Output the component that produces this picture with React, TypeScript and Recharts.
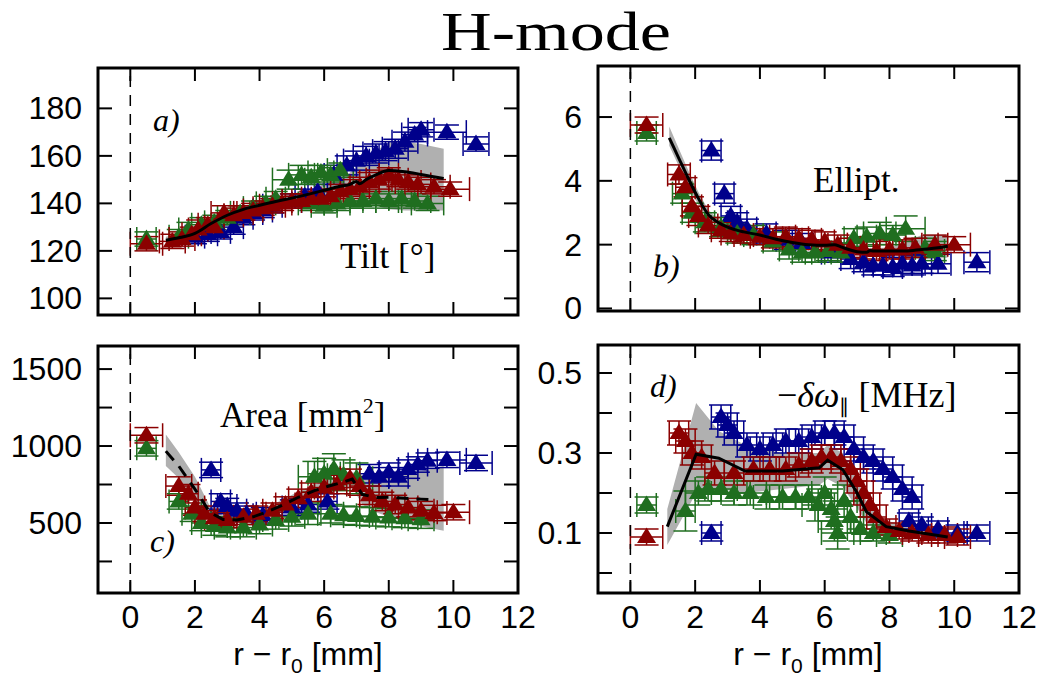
import { Area, ComposedChart, ErrorBar, Line, ReferenceLine, Scatter, XAxis, YAxis } from "recharts"

// [x, y, xerr, yerr]
type Pt = [number, number, number, number]

const BLUE = "#00008b"
const GREEN = "#1f6e1f"
const RED = "#8b0000"
const BAND = "#b0b0b0"

const xTicks = [0, 2, 4, 6, 8, 10, 12]

// a) Tilt
const tiltTicks = [100, 120, 140, 160, 180]
const tiltFitX = [1.1, 1.5, 2.0, 2.5, 3.0, 3.5, 4.0, 4.5, 5.0, 5.5, 6.0, 6.5, 6.8, 7.0, 7.1, 7.3, 7.6, 8.0, 8.5, 9.0, 9.7]
const tiltFit = [124.5, 125.5, 127.4, 131.5, 135, 137.5, 139.2, 140.8, 142.2, 143.8, 145.5, 147.2, 148, 149.2, 148.3, 150, 152, 153.8, 153.3, 152.2, 150.5]
const tiltLo = [123, 124, 126, 130, 133.5, 136, 137.8, 139.3, 140.5, 141.8, 143, 144, 143, 142, 141, 140, 139, 137.5, 137, 137, 137]
const tiltHi = [126, 127, 129, 133, 136.5, 139, 140.6, 142.3, 144, 145.8, 148, 150.5, 153, 155, 156, 158, 162, 166, 166, 165, 163]
const tiltBlue: Pt[] = [
  [2.0, 126, 0.3, 3], [2.4, 127, 0.3, 3], [2.8, 128, 0.3, 3], [3.2, 130, 0.3, 3], [3.5, 134, 0.3, 3], [3.8, 136, 0.3, 3],
  [4.1, 137, 0.3, 3], [4.4, 139, 0.3, 3], [5.0, 141, 0.3, 3], [5.4, 143, 0.3, 3], [5.8, 145, 0.3, 3], [6.3, 152, 0.3, 4],
  [6.7, 156, 0.3, 4], [7.0, 158, 0.4, 4], [7.3, 160, 0.4, 4], [7.6, 161, 0.4, 4], [7.9, 162, 0.4, 4], [8.2, 163, 0.4, 4],
  [8.5, 166, 0.4, 4], [8.8, 169, 0.4, 3], [9.0, 171, 0.4, 3], [9.8, 170, 0.6, 3], [10.7, 165, 0.4, 3],
]
const tiltGreen: Pt[] = [
  [0.5, 125, 0.3, 3], [1.5, 126, 0.3, 3], [1.8, 129, 0.3, 3], [2.2, 131, 0.3, 3], [2.6, 132, 0.3, 3], [3.0, 134, 0.3, 3],
  [3.4, 136, 0.3, 3], [3.8, 138, 0.3, 3], [4.2, 140, 0.3, 3], [4.5, 142, 0.3, 3], [4.9, 150, 0.5, 4], [5.3, 152, 0.4, 4],
  [5.6, 151, 0.4, 3], [5.9, 153, 0.4, 3], [6.2, 152, 0.4, 3], [6.5, 154, 0.4, 3], [5.6, 140, 0.4, 3], [6.0, 139, 0.4, 3],
  [6.4, 140, 0.4, 3], [6.8, 141, 0.4, 3], [7.2, 141, 0.4, 3], [7.6, 142, 0.4, 3], [8.0, 141, 0.4, 3], [8.4, 142, 0.4, 3],
  [8.8, 141, 0.5, 3], [9.2, 140, 0.5, 3],
]
const tiltRed: Pt[] = [
  [0.5, 123, 0.5, 3], [1.3, 124, 0.4, 3], [1.6, 125, 0.4, 3], [1.9, 127, 0.3, 3], [2.1, 129, 0.3, 4], [2.4, 131, 0.3, 3],
  [2.6, 130, 0.3, 3], [2.9, 136, 0.4, 3], [3.2, 135, 0.3, 3], [3.5, 136, 0.3, 3], [3.8, 137, 0.3, 3], [4.1, 138, 0.3, 3],
  [4.4, 139, 0.4, 3], [4.7, 140, 0.3, 3], [5.0, 141, 0.3, 3], [5.3, 141, 0.3, 3], [5.6, 142, 0.3, 3], [5.9, 142, 0.3, 3],
  [6.2, 143, 0.4, 3], [6.5, 145, 0.3, 3], [6.8, 146, 0.3, 4], [7.1, 147, 0.3, 4], [7.4, 149, 0.3, 4], [7.7, 150, 0.4, 4],
  [8.0, 152, 0.3, 3], [8.3, 150, 0.3, 3], [8.6, 149, 0.4, 3], [8.9, 148, 0.4, 3], [9.4, 147, 0.5, 3], [9.9, 146, 0.6, 3],
]

// b) Ellipticity
const ellTicks = [0, 2, 4, 6]
const ellFitX = [1.2, 1.5, 1.8, 2.1, 2.4, 2.7, 3.0, 3.5, 4.0, 4.5, 5.0, 5.5, 6.0, 6.3, 6.5, 7.0, 7.3, 7.4, 7.5, 8.0, 8.5, 9.0, 9.5, 9.8]
const ellFit = [5.35, 4.7, 4.05, 3.45, 2.95, 2.7, 2.55, 2.4, 2.3, 2.17, 2.07, 2.0, 1.98, 2.0, 1.93, 1.78, 1.76, 1.82, 1.8, 1.8, 1.8, 1.85, 1.9, 1.95]
const ellLo = [5.1, 4.45, 3.8, 3.25, 2.8, 2.6, 2.47, 2.33, 2.23, 2.1, 2.0, 1.93, 1.91, 1.93, 1.86, 1.71, 1.69, 1.74, 1.72, 1.7, 1.6, 1.55, 1.55, 1.6]
const ellHi = [5.7, 5.0, 4.3, 3.65, 3.1, 2.8, 2.63, 2.47, 2.37, 2.24, 2.14, 2.07, 2.05, 2.07, 2.0, 1.85, 1.83, 1.9, 1.88, 1.92, 2.1, 2.3, 2.3, 2.3]
const ellBlue: Pt[] = [
  [2.5, 4.95, 0.3, 0.3], [2.9, 3.6, 0.3, 0.3], [3.1, 2.9, 0.3, 0.3], [3.3, 2.7, 0.3, 0.3], [3.6, 2.5, 0.3, 0.3],
  [4.2, 2.35, 0.3, 0.3], [4.8, 2.15, 0.3, 0.3], [5.3, 2.05, 0.3, 0.3], [6.2, 1.75, 0.3, 0.3], [6.8, 1.55, 0.3, 0.3],
  [7.2, 1.45, 0.3, 0.3], [7.5, 1.35, 0.3, 0.3], [7.8, 1.35, 0.3, 0.3], [8.1, 1.3, 0.3, 0.3], [8.4, 1.4, 0.3, 0.3],
  [8.7, 1.35, 0.3, 0.3], [9.0, 1.4, 0.3, 0.3], [9.5, 1.4, 0.4, 0.3], [10.7, 1.45, 0.4, 0.3],
]
const ellGreen: Pt[] = [
  [0.5, 5.5, 0.3, 0.25], [1.6, 3.6, 0.3, 0.3], [1.9, 3.0, 0.3, 0.3], [2.3, 2.7, 0.3, 0.3], [2.8, 2.55, 0.3, 0.3],
  [3.3, 2.35, 0.3, 0.3], [3.8, 2.3, 0.3, 0.3], [4.4, 2.1, 0.3, 0.3], [4.9, 1.85, 0.3, 0.3], [5.3, 1.75, 0.3, 0.3],
  [5.7, 1.75, 0.3, 0.3], [6.1, 1.8, 0.3, 0.3], [6.5, 1.75, 0.3, 0.3], [6.9, 2.2, 0.3, 0.3], [7.3, 2.25, 0.3, 0.3],
  [7.7, 2.35, 0.5, 0.35], [8.1, 2.3, 0.4, 0.3], [8.5, 2.5, 0.6, 0.4], [9.1, 1.9, 0.3, 0.3], [9.4, 1.8, 0.3, 0.3],
]
const ellRed: Pt[] = [
  [0.5, 5.75, 0.5, 0.25], [1.5, 4.2, 0.35, 0.3], [1.7, 3.8, 0.3, 0.3], [1.9, 3.2, 0.3, 0.3], [2.1, 2.9, 0.3, 0.3],
  [2.4, 2.6, 0.3, 0.25], [2.8, 2.45, 0.3, 0.25], [3.1, 2.35, 0.3, 0.25], [3.5, 2.3, 0.3, 0.25], [4.0, 2.25, 0.3, 0.25],
  [4.4, 2.2, 0.3, 0.3], [4.8, 2.25, 0.3, 0.3], [5.2, 2.2, 0.3, 0.3], [5.6, 2.15, 0.3, 0.3], [6.0, 2.1, 0.3, 0.3],
  [6.4, 2.0, 0.3, 0.3], [6.8, 1.9, 0.3, 0.3], [7.2, 1.85, 0.3, 0.3], [7.6, 1.8, 0.3, 0.3], [8.0, 1.85, 0.3, 0.3],
  [8.4, 1.85, 0.3, 0.3], [8.8, 1.9, 0.3, 0.3], [9.4, 2.0, 0.4, 0.3], [10.0, 2.0, 0.5, 0.25],
]

// c) Area
const areaTicks = [250, 500, 750, 1000, 1250, 1500]
const areaLabels = [500, 1000, 1500]
const areaFitX = [1.1, 1.5, 2.0, 2.46, 2.87, 3.3, 3.8, 4.2, 4.7, 5.2, 5.7, 6.15, 6.5, 6.87, 7.18, 7.6, 8.0, 8.5, 9.0, 9.3, 9.7]
const areaFit = [967, 870, 720, 569, 523, 520, 540, 569, 615, 667, 710, 740, 760, 785, 686, 665, 667, 660, 655, 652, null]
const areaLo = [870, 790, 650, 535, 500, 500, 515, 540, 580, 630, 670, 700, 715, 730, 620, 570, 540, 510, 480, 465, 450]
const areaHi = [1075, 960, 800, 610, 550, 545, 565, 600, 650, 705, 750, 785, 810, 830, 810, 815, 830, 835, 840, 850, 870]
const areaBlue: Pt[] = [
  [2.5, 845, 0.3, 50], [2.8, 640, 0.3, 50], [3.0, 610, 0.3, 50], [3.3, 580, 0.3, 50], [3.6, 560, 0.3, 50],
  [4.1, 550, 0.3, 50], [5.0, 600, 0.3, 50], [5.5, 620, 0.3, 50], [6.1, 640, 0.3, 50], [7.4, 820, 0.3, 60],
  [7.7, 800, 0.3, 60], [8.0, 830, 0.3, 60], [8.3, 800, 0.3, 60], [8.6, 850, 0.3, 60], [8.9, 880, 0.3, 50],
  [9.2, 905, 0.3, 50], [9.8, 910, 0.6, 50], [10.7, 890, 0.5, 50],
]
const areaGreen: Pt[] = [
  [0.5, 985, 0.3, 50], [1.5, 640, 0.3, 50], [1.9, 560, 0.3, 50], [2.2, 500, 0.3, 50], [2.6, 480, 0.4, 60],
  [3.0, 470, 0.4, 60], [3.5, 470, 0.4, 60], [4.0, 490, 0.4, 60], [4.5, 520, 0.4, 60], [5.0, 540, 0.4, 60],
  [5.5, 560, 0.4, 70], [5.7, 800, 0.5, 100], [6.0, 820, 0.5, 100], [6.3, 850, 0.5, 100], [6.6, 810, 0.5, 100],
  [7.0, 790, 0.5, 100], [6.2, 560, 0.4, 60], [6.6, 550, 0.4, 60], [7.0, 545, 0.4, 60], [7.5, 540, 0.4, 60],
  [8.0, 535, 0.4, 60], [8.5, 530, 0.4, 60], [9.0, 525, 0.4, 60],
]
const areaRed: Pt[] = [
  [0.5, 1070, 0.5, 50], [1.5, 740, 0.4, 60], [1.8, 690, 0.3, 60], [2.0, 600, 0.3, 50], [2.3, 560, 0.3, 50],
  [2.6, 530, 0.3, 50], [3.0, 520, 0.3, 50], [3.5, 540, 0.3, 50], [3.9, 560, 0.3, 50], [4.4, 580, 0.3, 50],
  [4.8, 620, 0.3, 50], [5.2, 660, 0.3, 60], [5.6, 700, 0.3, 60], [6.0, 730, 0.3, 60], [6.4, 750, 0.3, 60],
  [6.8, 790, 0.3, 60], [7.1, 740, 0.3, 60], [7.4, 680, 0.3, 60], [7.8, 640, 0.3, 60], [8.2, 620, 0.3, 60],
  [8.6, 600, 0.3, 60], [9.0, 580, 0.4, 60], [9.4, 565, 0.4, 50], [10.0, 570, 0.5, 50],
]

// d) frequency shift
const freqTicks = [0, 0.1, 0.2, 0.3, 0.4, 0.5]
const freqLabels = [0.1, 0.3, 0.5]
const freqFitX = [1.14, 2.03, 2.73, 3.54, 4.7, 5.83, 6.09, 6.56, 6.98, 7.29, 7.9, 8.6, 9.8]
const freqFit = [0.116, 0.297, 0.287, 0.255, 0.255, 0.263, 0.282, 0.258, 0.203, 0.153, 0.116, 0.105, 0.09]
const freqLo = [0.07, 0.2, 0.21, 0.2, 0.21, 0.22, 0.235, 0.215, 0.165, 0.125, 0.1, 0.09, 0.08]
const freqHi = [0.16, 0.425, 0.355, 0.32, 0.3, 0.3, 0.32, 0.3, 0.24, 0.18, 0.13, 0.12, 0.1]
const freqBlue: Pt[] = [
  [2.5, 0.1, 0.3, 0.02], [2.8, 0.39, 0.3, 0.03], [3.0, 0.37, 0.3, 0.03], [3.2, 0.35, 0.3, 0.03], [3.6, 0.32, 0.3, 0.03],
  [4.0, 0.31, 0.3, 0.03], [4.4, 0.32, 0.3, 0.03], [4.8, 0.33, 0.3, 0.03], [5.2, 0.33, 0.3, 0.03], [5.6, 0.34, 0.3, 0.03],
  [6.0, 0.35, 0.3, 0.03], [6.3, 0.35, 0.3, 0.03], [6.6, 0.34, 0.3, 0.03], [6.9, 0.31, 0.3, 0.03], [7.2, 0.29, 0.3, 0.03],
  [7.5, 0.28, 0.3, 0.03], [7.8, 0.26, 0.3, 0.03], [8.1, 0.24, 0.3, 0.03], [8.4, 0.21, 0.3, 0.03], [8.7, 0.19, 0.3, 0.03],
  [8.6, 0.13, 0.3, 0.02], [9.0, 0.12, 0.3, 0.02], [9.5, 0.11, 0.3, 0.02], [10.1, 0.1, 0.3, 0.02], [10.7, 0.1, 0.4, 0.02],
]
const freqGreen: Pt[] = [
  [0.5, 0.17, 0.3, 0.02], [1.7, 0.155, 0.3, 0.05], [2.1, 0.2, 0.4, 0.03], [2.4, 0.21, 0.4, 0.03], [2.8, 0.21, 0.5, 0.03],
  [3.2, 0.2, 0.4, 0.03], [3.7, 0.2, 0.5, 0.03], [4.2, 0.19, 0.4, 0.03], [4.7, 0.19, 0.4, 0.03], [5.1, 0.19, 0.5, 0.03],
  [5.5, 0.19, 0.4, 0.03], [5.8, 0.17, 0.5, 0.04], [6.0, 0.2, 0.4, 0.04], [6.2, 0.16, 0.5, 0.05], [6.3, 0.13, 0.5, 0.05],
  [6.4, 0.1, 0.5, 0.04], [6.6, 0.18, 0.4, 0.04], [6.8, 0.14, 0.4, 0.04], [7.1, 0.11, 0.4, 0.03], [7.5, 0.1, 0.4, 0.02],
  [8.0, 0.095, 0.4, 0.02],
]
const freqRed: Pt[] = [
  [0.5, 0.09, 0.5, 0.02], [1.5, 0.35, 0.3, 0.03], [1.7, 0.33, 0.3, 0.03], [1.9, 0.3, 0.3, 0.03], [2.2, 0.29, 0.3, 0.03],
  [2.6, 0.25, 0.3, 0.03], [3.2, 0.25, 0.3, 0.03], [3.8, 0.26, 0.3, 0.03], [4.3, 0.26, 0.3, 0.03], [4.8, 0.26, 0.3, 0.03],
  [5.2, 0.27, 0.3, 0.03], [5.6, 0.28, 0.3, 0.03], [5.9, 0.29, 0.3, 0.03], [6.2, 0.29, 0.3, 0.03], [6.5, 0.28, 0.3, 0.03],
  [6.8, 0.26, 0.3, 0.03], [7.0, 0.23, 0.3, 0.03], [7.2, 0.2, 0.3, 0.03], [7.4, 0.17, 0.3, 0.03], [7.6, 0.14, 0.3, 0.03],
  [7.9, 0.115, 0.3, 0.02], [8.3, 0.105, 0.3, 0.02], [8.7, 0.1, 0.3, 0.02], [9.2, 0.095, 0.3, 0.02], [9.7, 0.095, 0.4, 0.02],
  [10.1, 0.09, 0.4, 0.02],
]

const SANS = "'Liberation Sans', Arial, sans-serif"
const SERIF = "'Liberation Serif', 'Times New Roman', serif"

function toFit(xs: number[], ys: (number | null)[], lo: number[], hi: number[]) {
  return xs.map((x, i) => ({ x, y: ys[i], band: [lo[i], hi[i]] }))
}

function toPts(pts: Pt[]) {
  return pts.map(([x, y, ex, ey]) => ({ x, y, ex, ey }))
}

const triangle = (color: string) => (p: any) => {
  const { cx, cy } = p
  return <polygon points={`${cx - 9.5},${cy + 6} ${cx + 9.5},${cy + 6} ${cx},${cy - 9.5}`} fill={color} />
}

interface PanelProps {
  L: number
  T: number
  W: number
  H: number
  yDomain: [number, number]
  yTicks: number[]
  yLabels: number[]
  xLabels: boolean
  fit: any[]
  blue: Pt[]
  green: Pt[]
  red: Pt[]
  dashed?: boolean
  curve: "monotone" | "linear"
}

function Panel({ L, T, W, H, yDomain, yTicks, yLabels, xLabels, fit, blue, green, red, dashed, curve }: PanelProps) {
  const padL = 100
  const padR = 30
  const padT = 6
  const padB = xLabels ? 90 : 24
  const plotL = padL
  const plotR = padL + W
  const plotT = padT
  const plotB = padT + H
  const size = { width: padL + W + padR, height: padT + H + padB }
  const margin = { top: padT, right: padR, left: 0, bottom: 0 }

  const YTick = (p: any) => {
    const v = p.payload.value
    const y = p.y
    return (
      <g>
        <line x1={plotL} x2={plotL + 14} y1={y} y2={y} stroke="#000" strokeWidth={2} />
        <line x1={plotR - 14} x2={plotR} y1={y} y2={y} stroke="#000" strokeWidth={2} />
        {yLabels.includes(v) && (
          <text x={plotL - 16} y={y + 11} textAnchor="end" fontSize={32} fontFamily={SANS} fill="#000">
            {v}
          </text>
        )}
      </g>
    )
  }

  const XTick = (p: any) => {
    const v = p.payload.value
    const x = p.x
    return (
      <g>
        {v < 12 && <line x1={x} x2={x} y1={plotB} y2={plotB - 13} stroke="#000" strokeWidth={2} />}
        {v < 12 && <line x1={x} x2={x} y1={plotT} y2={plotT + 13} stroke="#000" strokeWidth={2} />}
        {xLabels && (
          <text x={x} y={plotB + 35} textAnchor="middle" fontSize={32} fontFamily={SANS} fill="#000">
            {v}
          </text>
        )}
      </g>
    )
  }

  const series = [
    { pts: blue, color: BLUE },
    { pts: green, color: GREEN },
    { pts: red, color: RED },
  ]

  return (
    <>
      <div style={{ position: "absolute", left: L - padL, top: T - padT }}>
        <ComposedChart {...size} data={fit} margin={margin}>
          <XAxis type="number" dataKey="x" domain={[-1, 12]} ticks={xTicks} interval={0} allowDataOverflow
            height={padB} axisLine={false} tickLine={false} tick={XTick} />
          <YAxis type="number" domain={yDomain} ticks={yTicks} interval={0} allowDataOverflow
            width={padL} axisLine={false} tickLine={false} tick={YTick} />
          <Area dataKey="band" type="linear" fill={BAND} fillOpacity={1} stroke="none" isAnimationActive={false} />
          {series.map((s, i) => (
            <Scatter key={i} data={toPts(s.pts)} dataKey="y" fill={s.color} shape={triangle(s.color)} isAnimationActive={false}>
              <ErrorBar dataKey="ex" direction="x" width={12} stroke={s.color} strokeWidth={1.5} />
              <ErrorBar dataKey="ey" direction="y" width={12} stroke={s.color} strokeWidth={1.5} />
            </Scatter>
          ))}
          <ReferenceLine x={0} stroke="#000" strokeWidth={1.5} strokeDasharray="11 8" />
        </ComposedChart>
      </div>
      {/* fit curve on its own layer so it sits above the markers */}
      <div style={{ position: "absolute", left: L - padL, top: T - padT, pointerEvents: "none" }}>
        <ComposedChart {...size} data={fit} margin={margin}>
          <XAxis type="number" dataKey="x" domain={[-1, 12]} ticks={xTicks} allowDataOverflow
            height={padB} axisLine={false} tickLine={false} tick={false} />
          <YAxis type="number" domain={yDomain} ticks={yTicks} allowDataOverflow
            width={padL} axisLine={false} tickLine={false} tick={false} />
          <Line dataKey="y" type={curve} stroke="#000" strokeWidth={3}
            strokeDasharray={dashed ? "12 8" : undefined} dot={false} isAnimationActive={false} />
        </ComposedChart>
      </div>
    </>
  )
}

const panels = [
  { L: 98, T: 68, W: 420, H: 247 },
  { L: 598, T: 66, W: 421, H: 245 },
  { L: 98, T: 346, W: 420, H: 247 },
  { L: 598, T: 345, W: 421, H: 248 },
]

export default function App() {
  const [a, b, c, d] = panels
  return (
    <div style={{ position: "absolute", left: 0, top: 0, width: 1044, height: 679, background: "#fff" }}>
      <Panel {...a} yDomain={[93, 197]} yTicks={tiltTicks} yLabels={tiltTicks} xLabels={false}
        fit={toFit(tiltFitX, tiltFit, tiltLo, tiltHi)} blue={tiltBlue} green={tiltGreen} red={tiltRed} curve="monotone" />
      <Panel {...b} yDomain={[-0.08, 7.6]} yTicks={ellTicks} yLabels={ellTicks} xLabels={false}
        fit={toFit(ellFitX, ellFit, ellLo, ellHi)} blue={ellBlue} green={ellGreen} red={ellRed} curve="monotone" />
      <Panel {...c} yDomain={[45, 1650]} yTicks={areaTicks} yLabels={areaLabels} xLabels={true}
        fit={toFit(areaFitX, areaFit, areaLo, areaHi)} blue={areaBlue} green={areaGreen} red={areaRed} dashed curve="linear" />
      <Panel {...d} yDomain={[-0.05, 0.57]} yTicks={freqTicks} yLabels={freqLabels} xLabels={true}
        fit={toFit(freqFitX, freqFit, freqLo, freqHi)} blue={freqBlue} green={freqGreen} red={freqRed} curve="linear" />

      <svg width={1044} height={679} style={{ position: "absolute", left: 0, top: 0, pointerEvents: "none" }}>
        {panels.map((p, i) => (
          <rect key={i} x={p.L} y={p.T} width={p.W} height={p.H} fill="none" stroke="#000" strokeWidth={3} />
        ))}
        <text x={556} y={50} textAnchor="middle" fontSize={54} fontFamily={SERIF} fill="#000"
          textLength={230} lengthAdjust="spacingAndGlyphs">
          H-mode
        </text>

        <text x={153} y={131} fontSize={32} fontFamily={SERIF} fontStyle="italic">a)</text>
        <text x={340} y={268} fontSize={35} fontFamily={SERIF}>Tilt [°]</text>

        <text x={653} y={277} fontSize={32} fontFamily={SERIF} fontStyle="italic">b)</text>
        <text x={813} y={192} fontSize={35} fontFamily={SERIF}>Ellipt.</text>

        <text x={150} y={552} fontSize={32} fontFamily={SERIF} fontStyle="italic">c)</text>
        <text x={220} y={427} fontSize={35} fontFamily={SERIF}>
          Area [mm<tspan dy={-14} fontSize={22}>2</tspan>
          <tspan dy={14}>]</tspan>
        </text>

        <text x={650} y={397} fontSize={32} fontFamily={SERIF} fontStyle="italic">d)</text>
        <text x={777} y={407} fontSize={36} fontFamily={SERIF}>
          −<tspan fontStyle="italic">δω</tspan>
          <tspan dy={6} fontSize={20}>∥</tspan>
          <tspan dy={-6}> [MHz]</tspan>
        </text>

        {[308, 808].map((cx) => (
          <text key={cx} x={cx} y={665} textAnchor="middle" fontSize={32} fontFamily={SANS}>
            r − r<tspan dy={8} fontSize={21}>0</tspan>
            <tspan dy={-8}> [mm]</tspan>
          </text>
        ))}
      </svg>
    </div>
  )
}
